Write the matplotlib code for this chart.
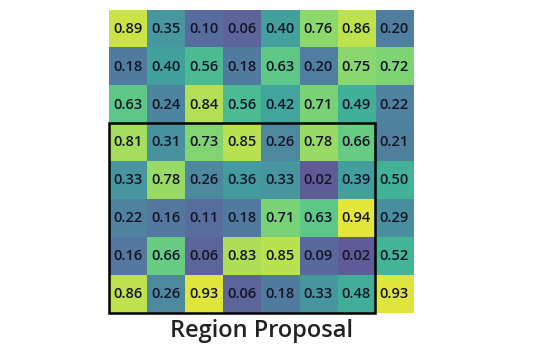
import numpy as np
import matplotlib
matplotlib.use("Agg")
import matplotlib.pyplot as plt
from matplotlib.colors import Normalize
from matplotlib.patches import Rectangle

values = [
    [0.89, 0.35, 0.10, 0.06, 0.40, 0.76, 0.86, 0.20],
    [0.18, 0.40, 0.56, 0.18, 0.63, 0.20, 0.75, 0.72],
    [0.63, 0.24, 0.84, 0.56, 0.42, 0.71, 0.49, 0.22],
    [0.81, 0.31, 0.73, 0.85, 0.26, 0.78, 0.66, 0.21],
    [0.33, 0.78, 0.26, 0.36, 0.33, 0.02, 0.39, 0.50],
    [0.22, 0.16, 0.11, 0.18, 0.71, 0.63, 0.94, 0.29],
    [0.16, 0.66, 0.06, 0.83, 0.85, 0.09, 0.02, 0.52],
    [0.86, 0.26, 0.93, 0.06, 0.18, 0.33, 0.48, 0.93],
]
region_rows = (3, 7)
region_cols = (0, 6)
title = "Region Proposal"

data = np.array(values)
fig = plt.figure(figsize=(5.52, 3.5), dpi=100)
ax = fig.add_axes([0.1975, 0.106, 0.551, 0.866])
ax.imshow(data, cmap="viridis", norm=Normalize(vmin=-0.2, vmax=1.0),
          alpha=0.85, aspect="auto", interpolation="nearest")
for i in range(data.shape[0]):
    for j in range(data.shape[1]):
        ax.text(j, i, f"{data[i, j]:.2f}", ha="center", va="center",
                fontsize=10.5, fontweight="semibold", family="Open Sans",
                color="#15152a")
r0, r1 = region_rows
c0, c1 = region_cols
ax.add_patch(Rectangle((c0 - 0.5, r0 - 0.5), c1 - c0 + 1, r1 - r0 + 1,
                       fill=False, edgecolor="black", linewidth=1.8,
                       clip_on=False))
ax.set_xticks([])
ax.set_yticks([])
for s in ax.spines.values():
    s.set_visible(False)
fig.text(0.473, 0.053, title, ha="center", va="center", fontsize=17,
         fontweight="semibold", family="Open Sans", color="#222222")
fig.savefig("out.png", dpi=100)
